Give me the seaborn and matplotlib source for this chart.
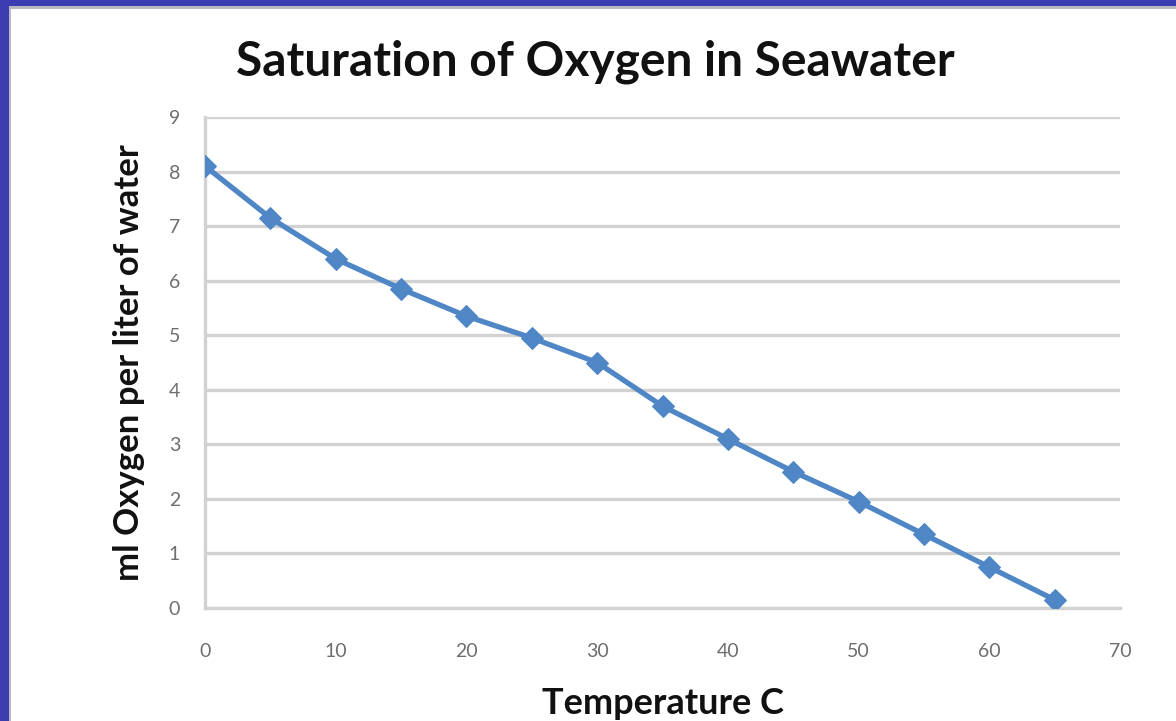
import matplotlib
matplotlib.use("Agg")
import matplotlib.pyplot as plt
import seaborn as sns
import pandas as pd
from matplotlib.patches import Rectangle

temperature = [0, 5, 10, 15, 20, 25, 30, 35, 40, 45, 50, 55, 60, 65]
oxygen = [8.1, 7.15, 6.4, 5.85, 5.35, 4.95, 4.5, 3.7, 3.1, 2.5, 1.95, 1.35, 0.75, 0.15]
x_ticks = [0, 10, 20, 30, 40, 50, 60, 70]
y_ticks = [0, 1, 2, 3, 4, 5, 6, 7, 8, 9]

title = "Saturation of Oxygen in Seawater"
x_label = "Temperature C"
y_label = "ml Oxygen per liter of water"

df = pd.DataFrame({"Temperature": temperature, "Oxygen": oxygen})

sns.set_theme(style="white")
plt.rcParams['font.family'] = ['Lato', 'DejaVu Sans']

fig = plt.figure(figsize=(11.76, 7.21), dpi=100)
fig.patch.set_facecolor("#3d3db2")
W, H = 1176, 721
fig.patches.append(Rectangle((9 / W, 0), 1, 1 - 6 / H, transform=fig.transFigure,
                             facecolor="#b8b8c0", edgecolor="none", zorder=-2))
fig.patches.append(Rectangle((11 / W, 0), 1, 1 - 9 / H, transform=fig.transFigure,
                             facecolor="white", edgecolor="none", zorder=-1))

ax = fig.add_axes([205 / W, 1 - 608 / H, (1120 - 205) / W, (608 - 117) / H])
ax.set_facecolor("white")
ax.set_zorder(1)

sns.lineplot(data=df, x="Temperature", y="Oxygen", ax=ax, color="#4f86c6",
             linewidth=3.8, marker="D", markersize=11, markeredgecolor="#4f86c6",
             zorder=3)

ax.set_xlim(0, 70)
ax.set_ylim(0, 9)
ax.set_xticks(x_ticks)
ax.set_yticks(y_ticks)
ax.set_xticklabels([str(t) for t in x_ticks])
ax.set_yticklabels([str(t) for t in y_ticks])

ax.yaxis.grid(True, color="#d2d2d2", linewidth=2.4)
ax.xaxis.grid(False)
for s in ["top", "right"]:
    ax.spines[s].set_visible(False)
for s in ["left", "bottom"]:
    ax.spines[s].set_color("#d2d2d2")
    ax.spines[s].set_linewidth(2.4)
ax.spines["bottom"].set_zorder(1)

ax.tick_params(axis="x", which="both", direction="out", length=6.5, width=2.2,
               color="#d2d2d2", labelsize=14, labelcolor="#6e6e6e", pad=19)
ax.tick_params(axis="y", which="both", direction="out", length=7, width=2.2,
               color="#d2d2d2", labelsize=14, labelcolor="#6e6e6e", pad=11)

ax.set_xlabel(x_label, fontsize=26, fontweight="bold", color="#111111", labelpad=19)
ax.set_ylabel(y_label, fontsize=25, fontweight="bold", color="#111111", labelpad=17)
fig.text(595 / W, 1 - 75 / H, title, fontsize=34.5, fontweight="bold",
         color="#111111", ha="center", va="baseline")

fig.savefig("out.png", dpi=100, facecolor=fig.get_facecolor())
